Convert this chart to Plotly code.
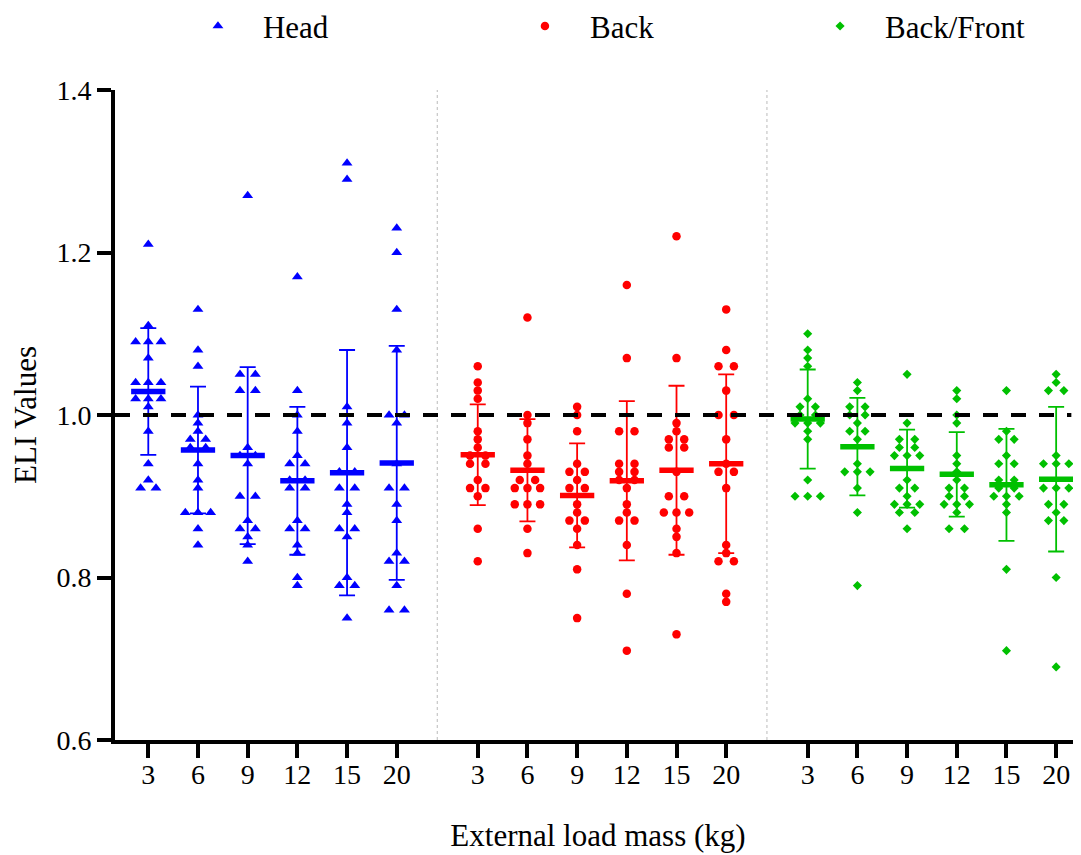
import plotly.graph_objects as go

# ---------------- data ----------------
loads = ["3", "6", "9", "12", "15", "20"]
series_names = ["Head", "Back", "Back/Front"]

head_3 = [1.21, 1.11, 1.09, 1.09, 1.09, 1.07, 1.04, 1.04, 1.04, 1.02, 1.02, 1.02, 1.01, 0.98, 0.94, 0.92, 0.91, 0.91]
head_6 = [1.13, 1.08, 1.06, 1.00, 0.99, 0.98, 0.97, 0.97, 0.96, 0.96, 0.94, 0.92, 0.91, 0.88, 0.88, 0.88, 0.86, 0.84]
head_9 = [1.27, 1.05, 1.05, 1.03, 1.03, 0.96, 0.95, 0.95, 0.94, 0.90, 0.90, 0.87, 0.86, 0.86, 0.85, 0.84, 0.82]
head_12 = [1.17, 1.03, 1.00, 0.98, 0.95, 0.94, 0.94, 0.92, 0.92, 0.91, 0.91, 0.87, 0.86, 0.86, 0.84, 0.83, 0.80, 0.79]
head_15 = [1.31, 1.29, 1.01, 0.99, 0.96, 0.93, 0.93, 0.91, 0.91, 0.89, 0.88, 0.86, 0.86, 0.85, 0.80, 0.79, 0.79, 0.75]
head_20 = [1.23, 1.20, 1.13, 1.08, 1.00, 1.00, 0.99, 0.94, 0.91, 0.91, 0.89, 0.87, 0.83, 0.82, 0.82, 0.79, 0.76, 0.76]

back_3 = [1.06, 1.04, 1.03, 1.02, 0.98, 0.97, 0.96, 0.95, 0.95, 0.94, 0.94, 0.92, 0.91, 0.91, 0.90, 0.86, 0.82]
back_6 = [1.12, 1.00, 0.99, 0.97, 0.95, 0.94, 0.92, 0.92, 0.91, 0.91, 0.91, 0.89, 0.89, 0.89, 0.86, 0.83]
back_9 = [1.01, 1.00, 0.98, 0.94, 0.93, 0.93, 0.92, 0.91, 0.91, 0.89, 0.88, 0.87, 0.87, 0.86, 0.84, 0.81, 0.75]
back_12 = [1.16, 1.07, 0.98, 0.98, 0.94, 0.94, 0.93, 0.93, 0.92, 0.92, 0.91, 0.89, 0.88, 0.87, 0.87, 0.84, 0.78, 0.71]
back_15 = [1.22, 1.07, 0.99, 0.98, 0.97, 0.97, 0.96, 0.96, 0.93, 0.90, 0.90, 0.88, 0.88, 0.88, 0.86, 0.85, 0.83, 0.73]
back_20 = [1.13, 1.08, 1.06, 1.06, 1.03, 1.00, 1.00, 0.97, 0.94, 0.93, 0.93, 0.91, 0.84, 0.83, 0.82, 0.82, 0.78, 0.77]

bf_3 = [1.10, 1.08, 1.07, 1.06, 1.02, 1.01, 1.01, 1.00, 1.00, 0.99, 0.99, 0.99, 0.98, 0.97, 0.92, 0.90, 0.90, 0.90]
bf_6 = [1.04, 1.03, 1.01, 1.01, 1.00, 1.00, 0.99, 0.98, 0.98, 0.97, 0.94, 0.93, 0.93, 0.93, 0.91, 0.88, 0.79]
bf_9 = [1.05, 0.99, 0.97, 0.97, 0.96, 0.96, 0.95, 0.95, 0.95, 0.92, 0.91, 0.91, 0.90, 0.89, 0.89, 0.89, 0.88, 0.88, 0.86]
bf_12 = [1.03, 1.02, 1.00, 0.99, 0.95, 0.94, 0.93, 0.92, 0.91, 0.91, 0.90, 0.90, 0.89, 0.89, 0.89, 0.88, 0.86, 0.86]
bf_15 = [1.03, 0.98, 0.97, 0.97, 0.95, 0.94, 0.94, 0.92, 0.92, 0.91, 0.91, 0.90, 0.90, 0.90, 0.89, 0.88, 0.81, 0.71]
bf_20 = [1.05, 1.04, 1.03, 1.03, 0.95, 0.94, 0.94, 0.94, 0.91, 0.91, 0.91, 0.89, 0.89, 0.88, 0.87, 0.87, 0.80, 0.69]

head_mean = [1.029, 0.957, 0.950, 0.919, 0.929, 0.941]
head_sd = [0.078, 0.078, 0.109, 0.091, 0.151, 0.144]
back_mean = [0.951, 0.932, 0.901, 0.919, 0.932, 0.940]
back_sd = [0.062, 0.063, 0.064, 0.098, 0.104, 0.110]
bf_mean = [0.995, 0.961, 0.934, 0.927, 0.914, 0.921]
bf_sd = [0.061, 0.060, 0.048, 0.052, 0.069, 0.089]

y_ticks = [0.6, 0.8, 1.0, 1.2, 1.4]
reference_value = 1.0

# ---------------- styling ----------------
FONT = "Liberation Serif"
TICK_SIZE = 28
colors = ["#0000FF", "#FF0000", "#00C000"]
symbols = ["triangle-up", "circle", "diamond"]
msizes = [9.5, 8.5, 7]
group_offset = [0.0, 6.63, 13.27]

groups = [
    (head_3, head_6, head_9, head_12, head_15, head_20),
    (back_3, back_6, back_9, back_12, back_15, back_20),
    (bf_3, bf_6, bf_9, bf_12, bf_15, bf_20),
]
means = [head_mean, back_mean, bf_mean]
sds = [head_sd, back_sd, bf_sd]


def spread(center, values):
    """Column-scatter layout: identical values are spread side by side."""
    xs = []
    counts = {}
    for v in values:
        counts[v] = counts.get(v, 0) + 1
    seen = {}
    for v in values:
        n = counts[v]
        k = seen.get(v, 0)
        seen[v] = k + 1
        step = 0.31 if n == 2 else 0.255
        xs.append(center + (k - (n - 1) / 2) * step)
    return xs


def styled(label):
    return f'<span style="font-family:{FONT};font-size:{TICK_SIZE}px">{label}</span>'


fig = go.Figure()
legend_ids = ["legend", "legend2", "legend3"]

for g in range(3):
    px_, py_ = [], []
    centers = []
    for i, vals in enumerate(groups[g]):
        c = group_offset[g] + i
        centers.append(c)
        px_ += spread(c, vals)
        py_ += vals
    fig.add_trace(go.Scatter(
        x=px_, y=py_, mode="markers", name=series_names[g],
        legend=legend_ids[g],
        marker=dict(symbol=symbols[g], size=msizes[g], color=colors[g], line=dict(width=0)),
    ))
    fig.add_trace(go.Scatter(
        x=centers, y=means[g], mode="markers", showlegend=False,
        marker=dict(symbol="line-ew", size=24.5, color=colors[g],
                    line=dict(width=5.5, color=colors[g])),
        error_y=dict(type="data", array=sds[g], visible=True, color=colors[g],
                     thickness=1.8, width=8),
    ))

# tick positions
tickvals, ticktext = [], []
for g in range(3):
    for i, lab in enumerate(loads):
        tickvals.append(group_offset[g] + i)
        ticktext.append(styled(lab))

shapes = []
# dotted separators between groups
for g in range(2):
    xs = (group_offset[g] + 5 + group_offset[g + 1]) / 2
    shapes.append(dict(type="line", xref="x", yref="y", x0=xs, x1=xs, y0=y_ticks[0], y1=y_ticks[-1],
                       line=dict(color="#BBBBBB", width=1, dash="dot"), layer="below"))
# dashed reference line
shapes.append(dict(type="line", xref="paper", yref="y", x0=0, x1=0.99,
                   y0=reference_value, y1=reference_value,
                   line=dict(color="black", width=4, dash="15px,13px"), layer="above"))

legend_common = dict(orientation="h", yref="paper", y=1.098, yanchor="middle", xanchor="left",
                     itemwidth=80, font=dict(family=FONT, size=31, color="black"),
                     bgcolor="rgba(0,0,0,0)", itemclick=False)

tickfont = dict(family=FONT, size=TICK_SIZE, color="black")

# the page body adds an 8px offset, so the figure is sized 8px smaller
fig.update_layout(
    template="none",
    width=1073, height=847,
    margin=dict(l=107, r=0, t=82, b=115, autoexpand=False),
    paper_bgcolor="white", plot_bgcolor="white",
    font=dict(family=FONT, color="black", size=TICK_SIZE),
    shapes=shapes,
    legend=dict(x=0.060, **legend_common),
    legend2=dict(x=0.3985, **legend_common),
    legend3=dict(x=0.704, **legend_common),
    xaxis=dict(range=[-0.67, 18.77], tickmode="array", tickvals=tickvals, ticktext=ticktext,
               showgrid=False, zeroline=False, showline=True, linewidth=4, linecolor="black",
               ticks="outside", ticklen=14, tickwidth=4, tickcolor="black",
               ticklabelstandoff=-8, automargin=False,
               tickfont=tickfont,
               title=dict(text="External load mass (kg)", font=dict(family=FONT, size=31, color="black"),
                          standoff=37)),
    yaxis=dict(range=[0.6, 1.4], tickmode="array", tickvals=y_ticks,
               ticktext=[styled(f"{v:.1f}") for v in y_ticks], automargin=False,
               showgrid=False, zeroline=False, showline=True, linewidth=4, linecolor="black",
               ticks="outside", ticklen=14, tickwidth=4, tickcolor="black",
               tickfont=tickfont,
               title=dict(text="ELI Values", font=dict(family=FONT, size=31, color="black"),
                          standoff=18)),
)

fig.write_html("out.html")
